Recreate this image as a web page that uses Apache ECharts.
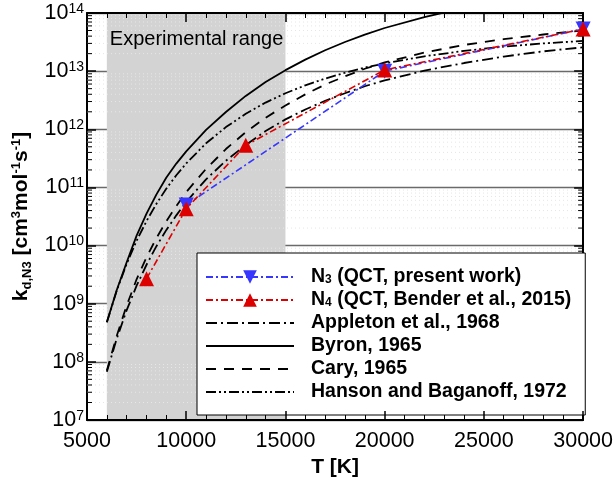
<!DOCTYPE html>
<html><head><meta charset="utf-8">
<script src="https://cdn.jsdelivr.net/npm/echarts@6/dist/echarts.min.js"></script>
<style>html,body{margin:0;padding:0;background:#fff}#c{width:616px;height:485px}</style>
</head><body><div id="c"></div>
<script>
// ---- data ----
const T_N3 = [10000, 20000, 30000];
const K_N3 = [5.0e10, 1.0e13, 5.3e13];
const T_N4 = [8000, 10000, 13000, 20000, 30000];
const K_N4 = [2.7e9, 4.3e10, 5.3e11, 1.05e13, 5.3e13];
const T_MODEL = [6000, 6500, 7000, 7500, 8000, 8500, 9000, 9500, 10000, 11000, 12000, 13000, 14000, 15000, 16000, 17000, 18000, 19000, 20000, 22000, 24000, 26000, 28000, 30000];
const K_APPLETON = [6.76e7, 2.51e8, 7.76e8, 2.04e9, 4.68e9, 9.77e9, 1.86e10, 3.31e10, 5.62e10, 1.38e11, 2.88e11, 5.37e11, 9.33e11, 1.48e12, 2.19e12, 3.09e12, 4.17e12, 5.50e12, 6.92e12, 1.02e13, 1.38e13, 1.78e13, 2.19e13, 2.57e13];
const K_BYRON = [4.79e8, 1.72e9, 5.16e9, 1.48e10, 3.55e10, 7.59e10, 1.48e11, 2.57e11, 4.17e11, 9.77e11, 1.98e12, 3.75e12, 6.5e12, 1.04e13, 1.58e13, 2.29e13, 3.17e13, 4.25e13, 5.52e13, 8.51e13, 1.22e14];
const K_CARY = [7.08e7, 2.82e8, 9.33e8, 2.63e9, 6.31e9, 1.35e10, 2.63e10, 4.79e10, 8.32e10, 2.09e11, 4.57e11, 8.91e11, 1.58e12, 2.57e12, 3.98e12, 5.89e12, 8.13e12, 1.10e13, 1.41e13, 2.09e13, 2.82e13, 3.55e13, 4.27e13, 5.01e13];
const K_HANSON = [4.79e8, 1.68e9, 4.86e9, 1.21e10, 2.64e10, 5.24e10, 9.55e10, 1.62e11, 2.59e11, 5.74e11, 1.09e12, 1.85e12, 2.88e12, 4.17e12, 5.70e12, 7.45e12, 9.38e12, 1.15e13, 1.36e13, 1.80e13, 2.23e13, 2.64e13, 3.00e13, 3.31e13];
const EXP_RANGE = [6000, 15000];
const X_MIN = 5000, X_MAX = 30000, X_STEP = 5000;
const Y_MIN = 1e7, Y_MAX = 1e14;
const LEGEND_NAMES = ['N3', 'N4', 'Appleton', 'Byron', 'Cary', 'Hanson'];
const LEGEND_TEXT = {
  N3: '{b|N}{s|3}{b| (QCT, present work)}',
  N4: '{b|N}{s|4}{b| (QCT, Bender et al., 2015)}',
  Appleton: '{b|Appleton et al., 1968}',
  Byron: '{b|Byron, 1965}',
  Cary: '{b|Cary, 1965}',
  Hanson: '{b|Hanson and Baganoff, 1972}'
};

const FONT = "'Liberation Sans', Arial, Helvetica, sans-serif";
const pairs = (xs, ys) => ys.map((y, i) => [xs[i], y]);

const minorVals = [];
for (let e = 7; e < 14; e++) for (let m = 2; m <= 9; m++) minorVals.push([X_MIN, m * Math.pow(10, e)]);

const chart = echarts.init(document.getElementById('c'), null, {renderer: 'canvas'});

const xAxisBase = {
  type: 'value', min: X_MIN, max: X_MAX, interval: X_STEP, z: 10,
  axisLine: {show: true, onZero: false, lineStyle: {color: '#000', width: 2}},
  axisTick: {show: true, inside: true, length: 9, lineStyle: {color: '#000', width: 1.5}},
  minorTick: {show: true, splitNumber: 5, length: 5, lineStyle: {color: '#000', width: 1}},
  splitLine: {show: false}
};
const yAxisBase = {
  type: 'log', logBase: 10, min: Y_MIN, max: Y_MAX, splitNumber: 7,
  axisLine: {show: true, onZero: false, lineStyle: {color: '#000', width: 2}},
  axisTick: {show: true, inside: true, length: 9, lineStyle: {color: '#000', width: 1.5}},
  minorTick: {show: false}
};

const option = {
  animation: false,
  backgroundColor: '#fff',
  textStyle: {fontFamily: FONT},
  grid: {left: 87, right: 29, top: 13, bottom: 65, containLabel: false},
  xAxis: [
    Object.assign({}, xAxisBase, {
      position: 'bottom',
      axisLabel: {show: true, color: '#000', fontSize: 21.5, margin: 10, fontFamily: FONT, formatter: v => String(v)},
      name: 'T [K]', nameLocation: 'middle', nameGap: 25,
      nameTextStyle: {color: '#000', fontSize: 21, fontWeight: 'bold', fontFamily: FONT}
    }),
    Object.assign({}, xAxisBase, {position: 'top', axisLabel: {show: false}})
  ],
  yAxis: [
    Object.assign({}, yAxisBase, {
      position: 'left',
      splitLine: {show: true, lineStyle: {color: '#6a6a6a', width: 1.3}},
      axisLabel: {
        show: true, margin: 3, color: '#000', fontFamily: FONT,
        formatter: v => '{b|10}{s|' + Math.round(Math.log10(v)) + '}',
        rich: {
          b: {fontSize: 21.5, lineHeight: 22, color: '#000', fontFamily: FONT},
          s: {fontSize: 14, lineHeight: 12, verticalAlign: 'top', color: '#000', fontFamily: FONT}
        }
      },
      name: '{b|k}{s|d,N3}{b| [cm}{p|3}{b|mol}{p|-1}{b|s}{p|-1}{b|]}',
      nameLocation: 'middle', nameRotate: 90, nameGap: 37,
      nameTextStyle: {
        color: '#000', fontFamily: FONT,
        rich: {
          b: {fontSize: 21, fontWeight: 'bold', lineHeight: 24, color: '#000', fontFamily: FONT},
          s: {fontSize: 13, fontWeight: 'bold', lineHeight: 8, verticalAlign: 'bottom', color: '#000', fontFamily: FONT},
          p: {fontSize: 13, fontWeight: 'bold', lineHeight: 12, verticalAlign: 'top', color: '#000', fontFamily: FONT}
        }
      }
    }),
    Object.assign({}, yAxisBase, {position: 'right', axisLabel: {show: false}, splitLine: {show: false}})
  ],
  legend: {
    orient: 'vertical', left: 197, top: 253,
    data: LEGEND_NAMES,
    backgroundColor: '#fff', borderColor: '#000', borderWidth: 1,
    padding: [14, 14, 13, 8],
    itemWidth: 88, itemHeight: 17, itemGap: 3,
    selectedMode: false,
    formatter: n => LEGEND_TEXT[n],
    textStyle: {
      color: '#000', fontFamily: FONT, padding: [0, 0, 0, 12],
      rich: {
        b: {fontSize: 19.5, fontWeight: 'bold', lineHeight: 17, color: '#000', fontFamily: FONT},
        s: {fontSize: 12, fontWeight: 'bold', lineHeight: 3, verticalAlign: 'bottom', color: '#000', fontFamily: FONT}
      }
    }
  },
  series: [
    {
      name: 'minor', type: 'custom', z: 1, silent: true, clip: false,
      data: minorVals, encode: {x: 0, y: 1},
      renderItem: (params, api) => {
        const v = api.value(1);
        const p0 = api.coord([X_MIN, v]);
        const p1 = api.coord([X_MAX, v]);
        return {type: 'group', children: [
          {type: 'line', shape: {x1: p0[0], y1: p0[1], x2: p1[0], y2: p1[1]}, style: {stroke: '#e6e6e6', lineWidth: 1, lineDash: [1, 3]}},
          {type: 'line', shape: {x1: p0[0], y1: p0[1], x2: p0[0] + 5, y2: p0[1]}, style: {stroke: '#000', lineWidth: 1}},
          {type: 'line', shape: {x1: p1[0] - 5, y1: p1[1], x2: p1[0], y2: p1[1]}, style: {stroke: '#000', lineWidth: 1}}
        ]};
      }
    },
    {
      name: 'shade', type: 'line', z: 2, data: [], silent: true,
      markArea: {
        silent: true,
        itemStyle: {color: '#d3d3d3'},
        label: {show: true, position: 'insideTopLeft', distance: 0, offset: [3, 16], color: '#000', fontSize: 20, fontFamily: FONT},
        data: [[{xAxis: EXP_RANGE[0], name: 'Experimental range'}, {xAxis: EXP_RANGE[1]}]]
      }
    },
    {
      name: 'Appleton', type: 'line', z: 3, symbol: 'none', data: pairs(T_MODEL, K_APPLETON),
      lineStyle: {color: '#000', width: 1.8, type: [11, 4, 2, 4]}, itemStyle: {color: 'rgba(0,0,0,0)'}
    },
    {
      name: 'Byron', type: 'line', z: 3, symbol: 'none', data: pairs(T_MODEL, K_BYRON),
      lineStyle: {color: '#000', width: 1.8, type: 'solid'}, itemStyle: {color: 'rgba(0,0,0,0)'}
    },
    {
      name: 'Cary', type: 'line', z: 3, symbol: 'none', data: pairs(T_MODEL, K_CARY),
      lineStyle: {color: '#000', width: 1.8, type: [10, 8]}, itemStyle: {color: 'rgba(0,0,0,0)'}
    },
    {
      name: 'Hanson', type: 'line', z: 3, symbol: 'none', data: pairs(T_MODEL, K_HANSON),
      lineStyle: {color: '#000', width: 1.8, type: [10, 3, 2, 3, 2, 3]}, itemStyle: {color: 'rgba(0,0,0,0)'}
    },
    {
      name: 'N3', type: 'line', z: 4, data: pairs(T_N3, K_N3),
      symbol: 'triangle', symbolRotate: 180, symbolSize: 15,
      lineStyle: {color: '#3636ff', width: 1.6, type: [7, 3, 2, 3]}, itemStyle: {color: '#3636ff'}
    },
    {
      name: 'N4', type: 'line', z: 5, data: pairs(T_N4, K_N4),
      symbol: 'triangle', symbolSize: 15,
      lineStyle: {color: '#dd0000', width: 1.6, type: [7, 3, 2, 3]}, itemStyle: {color: '#dd0000'}
    }
  ]
};
chart.setOption(option);
</script>
</body></html>
